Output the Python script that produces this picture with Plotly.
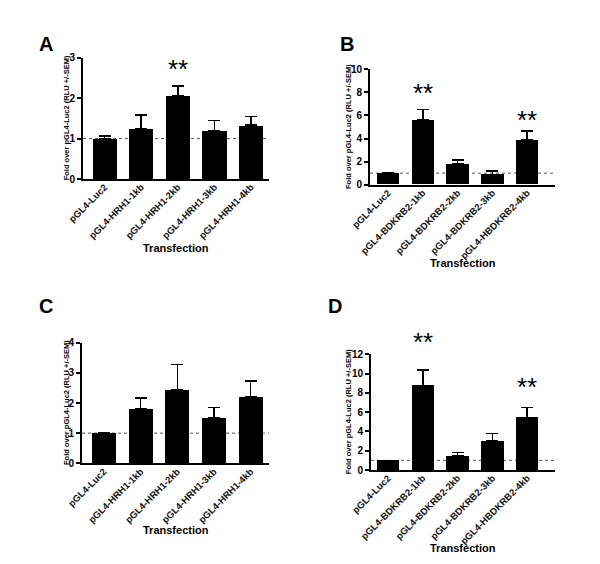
import plotly.graph_objects as go

# ---- data ----
cats_hrh1 = ["pGL4-Luc2", "pGL4-HRH1-1kb", "pGL4-HRH1-2kb", "pGL4-HRH1-3kb", "pGL4-HRH1-4kb"]
cats_bdk = ["pGL4-Luc2", "pGL4-BDKRB2-1kb", "pGL4-BDKRB2-2kb", "pGL4-BDKRB2-3kb", "pGL4-HBDKRB2-4kb"]

a_vals = [1.0, 1.25, 2.05, 1.2, 1.33]
a_err = [0.07, 0.33, 0.25, 0.25, 0.22]
b_vals = [1.0, 5.6, 1.8, 0.9, 3.85]
b_err = [0.06, 0.9, 0.35, 0.3, 0.8]
c_vals = [1.0, 1.8, 2.45, 1.5, 2.2]
c_err = [0.0, 0.37, 0.83, 0.35, 0.52]
d_vals = [1.0, 8.75, 1.45, 3.0, 5.45]
d_err = [0.0, 1.65, 0.35, 0.8, 1.05]

a_stars = [(2, 2.72)]
b_stars = [(1, 7.95), (4, 5.6)]
c_stars = []
d_stars = [(1, 13.3), (4, 8.6)]

# page has an 8px body margin, so the figure is drawn 8px in from the window edge
OFF = 8
W, H = 600 - OFF, 564 - OFF
FONT = "Liberation Sans, Arial, sans-serif"


def px(x):
    return (x - OFF) / W


def py(y):
    return 1 - (y - OFF) / H


panels = [
    # label, cats, vals, err, stars, xdom px, ydom px (bottom, top), yrange, dtick, xrange, barwidth, lblpos, xtitle y, ytitle x
    ("A", cats_hrh1, a_vals, a_err, a_stars, (83, 269), (179, 57.7), [0, 3], 1, [-0.59, 4.49], 0.66, (46, 44), 248, 66),
    ("B", cats_bdk, b_vals, b_err, b_stars, (370, 555), (184.7, 69.3), [0, 10], 2, [-0.52, 4.8], 0.65, (347, 44), 263, 348),
    ("C", cats_hrh1, c_vals, c_err, c_stars, (82, 269), (463.3, 342.7), [0, 4], 1, [-0.6, 4.5], 0.66, (46, 306), 530, 66),
    ("D", cats_bdk, d_vals, d_err, d_stars, (371, 555), (470, 354.3), [0, 12], 2, [-0.49, 4.8], 0.65, (335, 306), 548, 348),
]

fig = go.Figure()
annotations = []
shapes = []
for i, (lbl, cats, vals, err, stars, xd, yd, yr, dt, xr, bw, lp, xty, ytx) in enumerate(panels):
    n = i + 1
    xa = "x" if n == 1 else f"x{n}"
    ya = "y" if n == 1 else f"y{n}"
    xs = list(range(len(cats)))
    fig.add_trace(go.Bar(
        x=xs, y=vals, width=[bw] * len(xs), marker=dict(color="black", line=dict(width=0)),
        error_y=dict(type="data", symmetric=False, array=err, arrayminus=[0] * len(err),
                     color="black", thickness=1.6, width=6, visible=True),
        xaxis=xa, yaxis=ya, showlegend=False,
    ))
    xkey = "xaxis" if n == 1 else f"xaxis{n}"
    ykey = "yaxis" if n == 1 else f"yaxis{n}"
    fig.update_layout(**{
        xkey: dict(domain=[px(xd[0]), px(xd[1])], range=xr, anchor=ya, automargin=False,
                   tickvals=xs, ticktext=cats, tickangle=-45, showgrid=False, zeroline=False,
                   showline=True, linecolor="black", linewidth=2, ticks="", ticklabelstandoff=-3,
                   tickfont=dict(family=FONT, size=9.5, color="#111111", weight="bold"), fixedrange=True),
        ykey: dict(domain=[py(yd[0]), py(yd[1])], range=yr, anchor=xa, dtick=dt, automargin=False,
                   showgrid=False, zeroline=False, showline=True, linecolor="black", linewidth=2,
                   ticks="outside", ticklen=4, tickwidth=2, tickcolor="black",
                   tickfont=dict(family=FONT, size=10, color="black", weight="bold")),
    })
    # dotted reference line at 1
    shapes.append(dict(type="line", xref=xa, yref=ya, x0=xr[0], x1=xr[1], y0=1, y1=1,
                       line=dict(color="#555555", width=1, dash="dot"), layer="below"))
    # stars (y given in data units, placed via the axis domain so they may sit above the range)
    for (sx, sy) in stars:
        annotations.append(dict(x=sx, y=(sy - yr[0]) / (yr[1] - yr[0]), xref=xa, yref=f"{ya} domain",
                                text="**", showarrow=False,
                                font=dict(family=FONT, size=26, color="black"),
                                yanchor="middle"))
    # panel label
    annotations.append(dict(x=px(lp[0]), y=py(lp[1]), xref="paper", yref="paper", text=f"<b>{lbl}</b>",
                            showarrow=False, font=dict(family=FONT, size=20, color="black"),
                            xanchor="center", yanchor="middle"))
    # x title
    annotations.append(dict(x=px((xd[0] + xd[1]) / 2), y=py(xty), xref="paper", yref="paper",
                            text="<b>Transfection</b>", showarrow=False,
                            font=dict(family=FONT, size=11, color="black"),
                            xanchor="center", yanchor="middle"))
    # y title
    annotations.append(dict(x=px(ytx), y=py((yd[0] + yd[1]) / 2), xref="paper", yref="paper",
                            text="<b>Fold over pGL4-Luc2 (RLU +/-SEM)</b>", showarrow=False, textangle=-90,
                            font=dict(family=FONT, size=7.5, color="black"),
                            xanchor="center", yanchor="middle"))

fig.update_layout(width=W, height=H, margin=dict(l=0, r=0, t=0, b=0),
                  paper_bgcolor="white", plot_bgcolor="white",
                  annotations=annotations, shapes=shapes, bargap=0)
fig.write_html("out.html")
